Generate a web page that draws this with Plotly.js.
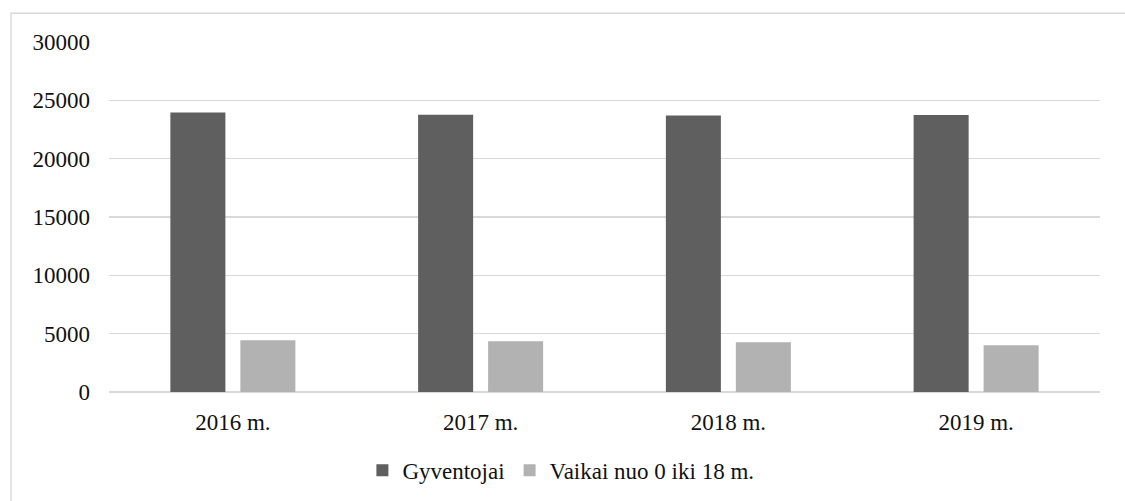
<!DOCTYPE html>
<html>
<head>
<meta charset="utf-8">
<script src="https://cdn.plot.ly/plotly-3.0.1.min.js"></script>
<style>html,body{margin:0;padding:0;background:#fff;}#chart{width:1125px;height:501px;}</style>
</head>
<body>
<div id="chart"></div>
<script>
const categories = ["2016 m.", "2017 m.", "2018 m.", "2019 m."];
const gyventojai = [23950, 23760, 23710, 23740];
const vaikai = [4430, 4350, 4260, 4000];
const seriesNames = ["Gyventojai", "Vaikai nuo 0 iki 18 m."];
const yTicks = [0, 5000, 10000, 15000, 20000, 25000, 30000];

const font = {family: "Liberation Serif", size: 23, color: "#111"};

const traces = [
  {type: "bar", name: seriesNames[0], x: categories, y: gyventojai, marker: {color: "#5f5f5f"}, hoverinfo: "skip"},
  {type: "bar", name: seriesNames[1], x: categories, y: vaikai, marker: {color: "#b2b2b2"}, hoverinfo: "skip"}
];

const layout = {
  width: 1125, height: 501,
  margin: {l: 109, r: 25, t: 42, b: 109, pad: 0, autoexpand: false},
  paper_bgcolor: "#fff", plot_bgcolor: "#fff",
  font: font,
  barmode: "group",
  bargap: 0.435,
  bargroupgap: 0.214,
  xaxis: {
    type: "category", showgrid: false, zeroline: false, showline: false, ticks: "",
    ticklabelstandoff: 14, tickfont: font, automargin: false
  },
  yaxis: {
    range: [0, 30000], tickvals: yTicks, ticktext: yTicks.map(String),
    showgrid: true, gridcolor: "#d9d9d9", gridwidth: 1.3,
    zeroline: true, zerolinecolor: "#d9d9d9", zerolinewidth: 1.3,
    showline: false, ticks: "", ticklabelstandoff: 18, tickfont: font, automargin: false
  },
  showlegend: true,
  legend: {
    orientation: "h", x: 0.456, xanchor: "center", y: -0.224, yanchor: "middle",
    font: font, itemwidth: 30, traceorder: "normal"
  },
  shapes: [{
    type: "rect", xref: "paper", yref: "paper",
    x0: -0.0989, x1: 1.1, y0: -0.5, y1: 1.082,
    line: {color: "#d9d9d9", width: 1.5}, fillcolor: "rgba(0,0,0,0)", layer: "below"
  }]
};

Plotly.newPlot("chart", traces, layout, {staticPlot: true, displayModeBar: false});
</script>
</body>
</html>
